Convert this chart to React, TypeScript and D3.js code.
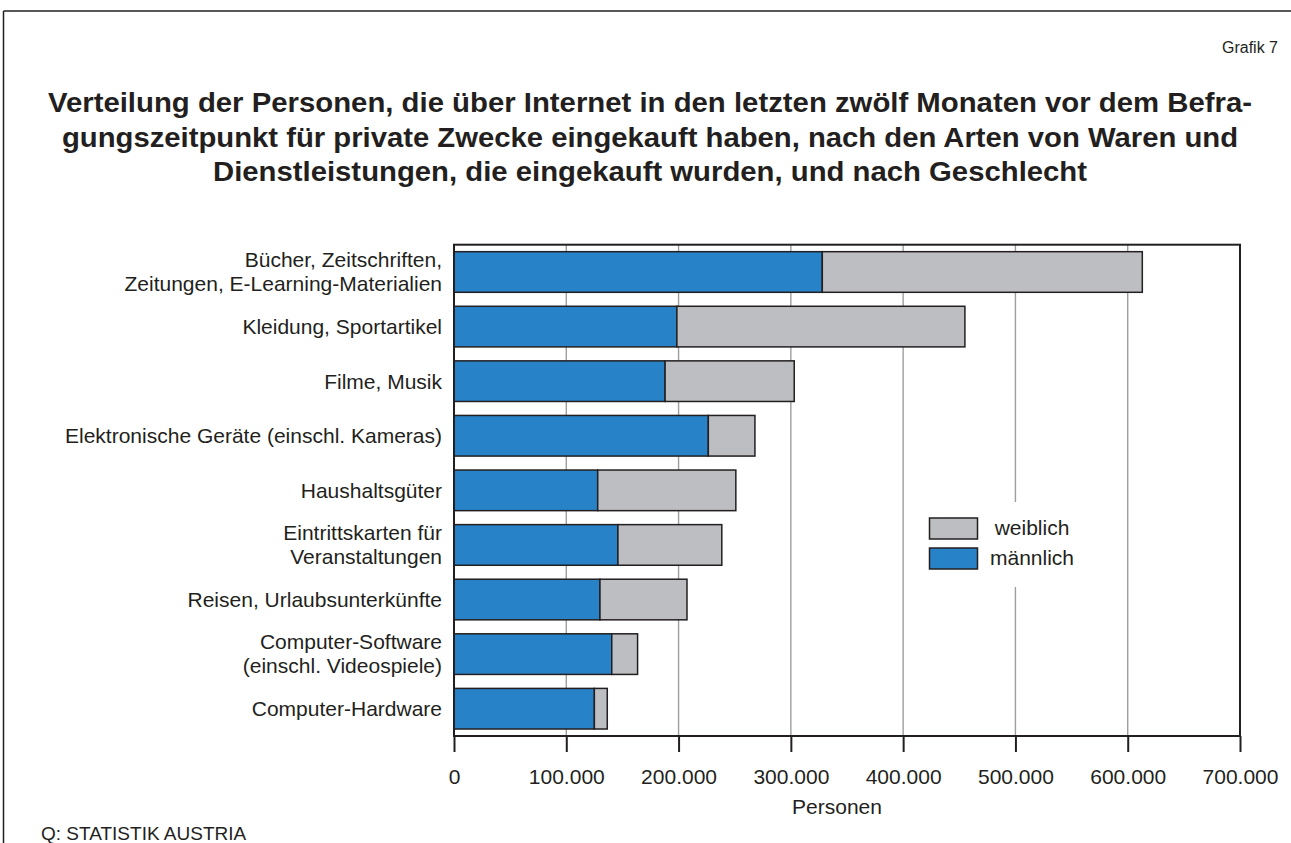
import * as d3 from "d3";
import { useRef, useEffect } from "react";

// Kategorien (von oben nach unten), Zeilenumbrüche wie im Original
const categories = [
  ["Bücher, Zeitschriften,", "Zeitungen, E-Learning-Materialien"],
  ["Kleidung, Sportartikel"],
  ["Filme, Musik"],
  ["Elektronische Geräte (einschl. Kameras)"],
  ["Haushaltsgüter"],
  ["Eintrittskarten für", "Veranstaltungen"],
  ["Reisen, Urlaubsunterkünfte"],
  ["Computer-Software", "(einschl. Videospiele)"],
  ["Computer-Hardware"],
];

const maleValues = [328000, 198500, 188000, 226500, 128000, 146000, 130000, 140500, 125000];
const femaleValues = [285000, 256500, 115000, 41500, 123000, 92500, 77500, 23000, 11500];

const tickValues = [0, 100000, 200000, 300000, 400000, 500000, 600000, 700000];

const titleLines = [
  "Verteilung der Personen, die über Internet in den letzten zwölf Monaten vor dem Befra-",
  "gungszeitpunkt für private Zwecke eingekauft haben, nach den Arten von Waren und",
  "Dienstleistungen, die eingekauft wurden, und nach Geschlecht",
];

const legendItems = [
  { label: "weiblich", color: "#bdbec1" },
  { label: "männlich", color: "#2882c8" },
];

function App() {
  const width = 1291;
  const height = 843;
  const svgRef = useRef(null);

  useEffect(() => {
    const svg = d3.select(svgRef.current);
    svg.selectAll("*").remove();

    const font = "'Liberation Sans', Arial, Helvetica, sans-serif";
    const ink = "#231f20";
    const blue = "#2882c8";
    const grey = "#bdbec1";

    const left = 454;
    const right = 1240;
    const top = 244.7;
    const bottom = 736;

    const x = d3.scaleLinear().domain([0, 700000]).range([left, right]);
    const y = d3
      .scaleBand()
      .domain(categories.map((_, i) => String(i)))
      .range([top, bottom])
      .paddingInner(0.256)
      .paddingOuter(0.128);

    // Rahmen (oben und links)
    svg.append("line").attr("x1", 3.5).attr("x2", width).attr("y1", 11).attr("y2", 11)
      .attr("stroke", ink).attr("stroke-width", 1.5);
    svg.append("line").attr("x1", 3.5).attr("x2", 3.5).attr("y1", 11).attr("y2", height)
      .attr("stroke", ink).attr("stroke-width", 1.5);

    svg.append("text")
      .attr("x", 1278).attr("y", 53)
      .attr("text-anchor", "end")
      .style("font-family", font).style("font-size", "16px").attr("fill", ink)
      .text("Grafik 7");

    const titleWidths = [1204, 1176, 874];
    svg.selectAll(".title")
      .data(titleLines)
      .join("text")
      .attr("class", "title")
      .attr("x", 650)
      .attr("y", (_, i) => 112 + i * 34.5)
      .attr("text-anchor", "middle")
      .attr("textLength", (_, i) => titleWidths[i])
      .attr("lengthAdjust", "spacingAndGlyphs")
      .style("font-family", font).style("font-size", "28px").style("font-weight", "bold")
      .attr("fill", ink)
      .text((d) => d);

    // Gitterlinien
    svg.selectAll(".grid")
      .data(tickValues.slice(1, -1))
      .join("line")
      .attr("class", "grid")
      .attr("x1", (d) => x(d)).attr("x2", (d) => x(d))
      .attr("y1", top).attr("y2", bottom)
      .attr("stroke", "#9d9ea1").attr("stroke-width", 1.4);

    // Balken
    const g = svg.append("g");
    g.selectAll(".male")
      .data(maleValues)
      .join("rect")
      .attr("class", "male")
      .attr("x", x(0))
      .attr("y", (_, i) => y(String(i)))
      .attr("width", (d) => x(d) - x(0))
      .attr("height", y.bandwidth())
      .attr("fill", blue).attr("stroke", ink).attr("stroke-width", 1.5);
    g.selectAll(".female")
      .data(femaleValues)
      .join("rect")
      .attr("class", "female")
      .attr("x", (_, i) => x(maleValues[i]))
      .attr("y", (_, i) => y(String(i)))
      .attr("width", (d, i) => x(maleValues[i] + d) - x(maleValues[i]))
      .attr("height", y.bandwidth())
      .attr("fill", grey).attr("stroke", ink).attr("stroke-width", 1.5);

    // Kategorienbeschriftung
    const labels = svg.selectAll(".cat")
      .data(categories)
      .join("text")
      .attr("class", "cat")
      .attr("text-anchor", "end")
      .style("font-family", font).style("font-size", "21px").attr("fill", ink);
    labels.each(function (lines, i) {
      const cy = y(String(i)) + y.bandwidth() / 2;
      d3.select(this)
        .selectAll("tspan")
        .data(lines)
        .join("tspan")
        .attr("x", 442)
        .attr("y", (_, j) => cy + (j - (lines.length - 1) / 2) * 24)
        .attr("dy", "0.35em")
        .text((d) => d);
    });

    // Plotrahmen
    svg.append("rect")
      .attr("x", left).attr("y", top).attr("width", right - left).attr("height", bottom - top)
      .attr("fill", "none").attr("stroke", ink).attr("stroke-width", 2);

    // x-Achse
    const fmt = (d) => d3.format(",")(d).replace(/,/g, ".");
    const axis = svg.append("g")
      .attr("transform", `translate(0,${bottom})`)
      .call(d3.axisBottom(x).tickValues(tickValues).tickSize(16).tickFormat(fmt));
    axis.select(".domain").remove();
    axis.selectAll(".tick line").attr("stroke", ink).attr("stroke-width", 2);
    axis.selectAll(".tick text")
      .attr("fill", ink)
      .attr("y", 48).attr("dy", null)
      .style("font-family", font).style("font-size", "21px");

    svg.append("text")
      .attr("x", 837).attr("y", 814)
      .attr("text-anchor", "middle")
      .style("font-family", font).style("font-size", "21px").attr("fill", ink)
      .text("Personen");

    // Legende
    const lg = svg.append("g");
    lg.append("rect")
      .attr("x", 912).attr("y", 502).attr("width", 186).attr("height", 85)
      .attr("fill", "white");
    legendItems.forEach((item, i) => {
      lg.append("rect")
        .attr("x", 929.5).attr("y", 518 + i * 30).attr("width", 48).attr("height", 21)
        .attr("fill", item.color).attr("stroke", ink).attr("stroke-width", 1.5);
      lg.append("text")
        .attr("x", 1032).attr("y", 535 + i * 30)
        .attr("text-anchor", "middle")
        .style("font-family", font).style("font-size", "21px").attr("fill", ink)
        .text(item.label);
    });

    svg.append("text")
      .attr("x", 41).attr("y", 840)
      .style("font-family", font).style("font-size", "19px").attr("fill", ink)
      .text("Q: STATISTIK AUSTRIA");
  }, []);

  return (
    <svg
      ref={svgRef}
      width={width}
      height={height}
      viewBox={`0 0 ${width} ${height}`}
      style={{ position: "absolute", left: 0, top: 0, background: "white" }}
    ></svg>
  );
}

export default App;
